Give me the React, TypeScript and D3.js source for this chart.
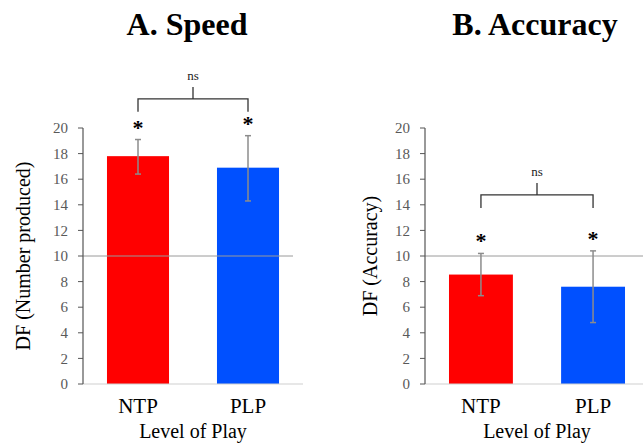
import React from "react";
import * as d3 from "d3";

const categories = ["NTP", "PLP"];
const speedMeans = [17.8, 16.9];
const speedErrLow = [16.4, 14.3];
const speedErrHigh = [19.1, 19.4];
const accuracyMeans = [8.55, 7.6];
const accuracyErrLow = [6.9, 4.8];
const accuracyErrHigh = [10.2, 10.4];
const yTicks = [0, 2, 4, 6, 8, 10, 12, 14, 16, 18, 20];
const referenceValue = 10;
const barColors = ["#FF0000", "#0050FF"];

const W = 643;
const H = 445;
const serif = "'Liberation Serif', 'Times New Roman', serif";

type PanelProps = {
  title: string;
  titleX: number;
  yLabel: string;
  yLabelX: number;
  axisX: number;
  rangeEnd: number;
  refEnd: number;
  padInner: number;
  padOuter: number;
  means: number[];
  lo: number[];
  hi: number[];
  bracketY: number;
  bracketLeg: number;
};

function Panel(p: PanelProps) {
  const y = d3.scaleLinear().domain([0, 20]).range([384, 128]);
  const x = d3
    .scaleBand<string>()
    .domain(categories)
    .range([p.axisX, p.rangeEnd])
    .paddingInner(p.padInner)
    .paddingOuter(p.padOuter);
  const bw = x.bandwidth();
  const cx = (c: string) => (x(c) as number) + bw / 2;
  const bY = y(p.bracketY);
  const x1 = cx(categories[0]);
  const x2 = cx(categories[1]);
  const mid = (x1 + x2) / 2;
  return (
    <g fontFamily={serif}>
      <text x={p.titleX} y={35} textAnchor="middle" fontSize={32} fontWeight="bold" fill="#000" fontFamily={serif}>
        {p.title}
      </text>
      {categories.map((c, i) => (
        <rect key={c} x={x(c)} y={y(p.means[i])} width={bw} height={y(0) - y(p.means[i])} fill={barColors[i]} />
      ))}
      <line x1={p.axisX} x2={p.refEnd} y1={y(referenceValue)} y2={y(referenceValue)} stroke="#9a9a9a" strokeWidth={1} />
      {categories.map((c, i) => (
        <g key={c} stroke="#8c8c8c" strokeWidth={1.5}>
          <line x1={cx(c)} x2={cx(c)} y1={y(p.hi[i])} y2={y(p.lo[i])} />
          <line x1={cx(c) - 3} x2={cx(c) + 3} y1={y(p.hi[i])} y2={y(p.hi[i])} />
          <line x1={cx(c) - 3} x2={cx(c) + 3} y1={y(p.lo[i])} y2={y(p.lo[i])} />
        </g>
      ))}
      {categories.map((c, i) => (
        <text key={c} x={cx(c)} y={y(p.hi[i]) - 5} textAnchor="middle" fontSize={22} fontWeight="bold" fill="#000" fontFamily={serif}>
          *
        </text>
      ))}
      <path
        d={`M${x1},${bY + p.bracketLeg} V${bY} H${x2} V${bY + p.bracketLeg} M${mid},${bY} V${bY - 12}`}
        fill="none"
        stroke="#333"
        strokeWidth={1.3}
      />
      <text x={mid} y={bY - 19} textAnchor="middle" fontSize={13} fill="#222" fontFamily={serif}>
        ns
      </text>
      <line x1={p.axisX} x2={p.rangeEnd} y1={y(0)} y2={y(0)} stroke="#d0d0d0" strokeWidth={1.2} />
      <line x1={p.axisX} x2={p.axisX} y1={y(20)} y2={y(0)} stroke="#555" strokeWidth={1.2} />
      {yTicks.map((t) => (
        <g key={t}>
          <line x1={p.axisX - 5} x2={p.axisX} y1={y(t)} y2={y(t)} stroke="#555" strokeWidth={1} />
          <text x={p.axisX - 15} y={y(t)} dy="0.35em" textAnchor="end" fontSize={15} fill="#595959" fontFamily={serif}>
            {t}
          </text>
        </g>
      ))}
      {categories.map((c) => (
        <text key={c} x={cx(c)} y={413} textAnchor="middle" fontSize={21} fill="#000" fontFamily={serif}>
          {c}
        </text>
      ))}
      <text x={(p.axisX + p.rangeEnd) / 2} y={438} textAnchor="middle" fontSize={20} fill="#000" fontFamily={serif}>
        Level of Play
      </text>
      <text
        transform={`translate(${p.yLabelX},${256}) rotate(-90)`}
        textAnchor="middle"
        dy="0.35em"
        fontSize={20}
        fill="#000"
        fontFamily={serif}
      >
        {p.yLabel}
      </text>
    </g>
  );
}

export default function App() {
  return (
    <svg width={W} height={H} style={{ position: "absolute", left: 0, top: 0, background: "#fff" }}>
      <rect width={W} height={H} fill="#fff" />
      <Panel
        title="A. Speed"
        titleX={187}
        yLabel="DF (Number produced)"
        yLabelX={23}
        axisX={83}
        rangeEnd={303}
        refEnd={293}
        padInner={0.436}
        padOuter={0.218}
        means={speedMeans}
        lo={speedErrLow}
        hi={speedErrHigh}
        bracketY={22.27}
        bracketLeg={12.7}
      />
      <Panel
        title="B. Accuracy"
        titleX={535}
        yLabel="DF (Accuracy)"
        yLabelX={370}
        axisX={425}
        rangeEnd={649}
        refEnd={643}
        padInner={0.43}
        padOuter={0.214}
        means={accuracyMeans}
        lo={accuracyErrLow}
        hi={accuracyErrHigh}
        bracketY={14.77}
        bracketLeg={13}
      />
    </svg>
  );
}
